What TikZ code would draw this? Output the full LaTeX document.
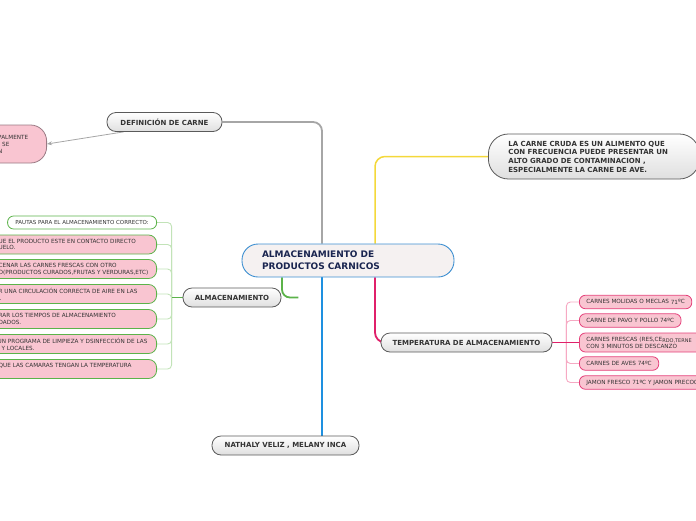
\documentclass[tikz,border=0pt]{standalone}
\usepackage{fontspec}
\setmainfont{DejaVu Sans}
\usetikzlibrary{calc,backgrounds,arrows.meta}
\definecolor{gborder}{HTML}{5A5A5A}
\definecolor{tdark}{HTML}{333333}
\definecolor{tnavy}{HTML}{1A2550}
\definecolor{cenborder}{HTML}{3D8FD1}
\definecolor{cenfill}{HTML}{F5F1F1}
\definecolor{pinkfill}{HTML}{F9C5D1}
\definecolor{pinkborder}{HTML}{E4407A}
\definecolor{greenborder}{HTML}{5CB34A}
\definecolor{lgreen}{HTML}{C2E3B8}
\definecolor{lpink}{HTML}{F6A9C3}
\definecolor{cmagenta}{HTML}{E0206A}
\definecolor{cyellow}{HTML}{F4D83A}
\definecolor{cblue}{HTML}{1E90E0}
\definecolor{cgray}{HTML}{A6A6A6}
\definecolor{mauve}{HTML}{9A7A84}
\tikzset{
  graynode/.style={draw=gborder, line width=0.8pt, rounded corners=9pt,
    top color=white, bottom color=gray!25, text=tdark,
    font=\fontsize{7}{8.7}\selectfont\bfseries, minimum height=19pt, inner sep=2pt},
  central/.style={draw=cenborder, line width=0.9pt, fill=cenfill, rounded corners=16pt,
    text=tnavy, font=\fontsize{9}{12}\selectfont\bfseries, align=left,
    text width=172pt, inner xsep=20pt, minimum height=33pt},
  leafL/.style={draw=greenborder, line width=0.8pt, fill=pinkfill, rounded corners=8pt},
  leafR/.style={draw=pinkborder, line width=0.8pt, fill=pinkfill, rounded corners=6pt,
    text=tdark, font=\fontsize{5.7}{6.8}\selectfont, align=left,
    inner xsep=7pt, inner ysep=2pt, minimum height=13.5pt},
  smalltext/.style={text=tdark, font=\fontsize{5.7}{6.8}\selectfont, align=left, inner sep=0pt},
  pautas/.style={draw=greenborder, line width=0.8pt, fill=white, rounded corners=6pt,
    text=tdark, font=\fontsize{5.5}{6.8}\selectfont, minimum height=13pt, inner xsep=3pt},
  lglink/.style={draw=lgreen, line width=0.9pt, rounded corners=4pt},
  lplink/.style={draw=lpink, line width=0.9pt, rounded corners=4pt},
}
\begin{document}
\begin{tikzpicture}[x=1pt,y=-1pt]
\useasboundingbox (0,0) rectangle (696,520);
\clip (0,0) rectangle (696,520);

% central
\node[central] (cen) at (348,260.5) {ALMACENAMIENTO DE\\PRODUCTOS CARNICOS};

% definition branch
\node[graynode, minimum width=115pt] (def) at (164.5,122) {DEFINICIÓN DE CARNE};
\node[draw=mauve, line width=0.8pt, fill=pinkfill, rounded corners=16pt,
  minimum width=110pt, minimum height=38pt, anchor=east] (dpk) at (47,144) {};
\node[smalltext, anchor=west] (dpkt) at (-2,144.5) {PALMENTE\\\hspace*{4pt}SE\\N};

% right top
\node[graynode, rounded corners=20pt, minimum height=45pt, text width=171pt,
  inner xsep=20pt, align=left, anchor=west] (rt) at (488,156.5)
  {LA CARNE CRUDA ES UN ALIMENTO QUE\\CON FRECUENCIA PUEDE PRESENTAR UN\\ALTO GRADO DE CONTAMINACION ,\\ESPECIALMENTE LA CARNE DE AVE.};

% temperature
\node[graynode, minimum width=171pt] (temp) at (466.5,342.5) {TEMPERATURA DE ALMACENAMIENTO};
\node[leafR, anchor=west] (r1) at (579,302) {CARNES MOLIDAS O MECLAS \raisebox{-1pt}{71}ºC};
\node[leafR, anchor=west, text width=132pt, minimum height=19pt] (r3) at (579,342.5)
  {CARNES FRESCAS (RES,CE\raisebox{-1pt}{\fontsize{5}{6}\selectfont RDO,TERNE}\\CON 3 MINUTOS DE DESCANZO};
\node[leafR, anchor=west] (r2) at (579,320.5) {CARNE DE PAVO Y POLLO 74ºC};
\node[leafR, anchor=west] (r4) at (579,363.5) {CARNES DE AVES 74ºC};
\node[leafR, anchor=west, text width=132pt] (r5) at (579,382.5) {JAMON FRESCO 71ºC Y JAMON PRECOC};

% bottom
\node[graynode, minimum width=147pt] (nat) at (285.5,445.5) {NATHALY VELIZ , MELANY INCA};

% almacenamiento
\node[graynode, minimum width=98pt] (alm) at (232,297.5) {ALMACENAMIENTO};
\node[pautas, anchor=east, minimum width=149pt] (l1) at (157,222.5) {PAUTAS PARA EL ALMACENAMIENTO CORRECTO:};
\foreach \n/\y in {l2/244.5,l3/269,l4/294,l5/319,l6/344,l7/369}{
  \node[leafL, anchor=east, minimum width=200pt, minimum height=19pt] (\n) at (157,\y) {};
}
\node[smalltext, anchor=west] (l2t) at (-1.5,244.5) {UE EL PRODUCTO ESTE EN CONTACTO DIRECTO\\UELO.};
\node[smalltext, anchor=west] (l3t) at (-1.5,269) {CENAR LAS CARNES FRESCAS CON OTRO\\O(PRODUCTOS CURADOS,FRUTAS Y VERDURAS,ETC)};
\node[smalltext, anchor=west] (l4t) at (-1.5,294) {R UNA CIRCULACIÓN CORRECTA DE AIRE EN LAS\\\hspace*{1pt}.};
\node[smalltext, anchor=west] (l5t) at (-1.5,319) {RAR LOS TIEMPOS DE ALMACENAMIENTO\\DADOS.};
\node[smalltext, anchor=west] (l6t) at (-2.5,344) {UN PROGRAMA DE LIMPIEZA Y DSINFECCIÓN DE LAS\\\hspace*{4pt}Y LOCALES.};
\node[smalltext, anchor=west] (l7t) at (-1.5,369) {QUE LAS CAMARAS TENGAN LA TEMPERATURA\\\mbox{}};

\begin{pgfonlayer}{background}
  \draw[cgray, line width=1.8pt, rounded corners=9pt] (def.east) -| ([xshift=-26pt]cen.north);
  \draw[cgray, line width=0.8pt, -{Stealth[length=5pt,width=4pt]}] ([xshift=-41pt]def.south) -- (dpk.east);
  \draw[cyellow, line width=1.5pt, rounded corners=10pt] (rt.west) -| ([xshift=27pt]cen.north);
  \draw[cmagenta, line width=1.8pt, rounded corners=10pt] ([xshift=27pt]cen.south) |- (temp.west);
  \draw[cblue, line width=2.2pt] ([xshift=-26pt]cen.south) -- ([xshift=-26pt]cen.south |- nat.north);
  \draw[greenborder, line width=1.8pt, rounded corners=8pt] ([xshift=-66pt]cen.south) |- ([xshift=17pt]alm.east);
  \foreach \n in {l1,l2,l3,l4,l5,l6,l7}{
    \draw[lglink] (\n.east) -| ([xshift=-11pt]alm.west);
  }
  \draw[greenborder, line width=1.5pt] (alm.west) -- ([xshift=-11pt]alm.west);
  \foreach \n in {r1,r2,r4,r5}{
    \draw[lplink] (\n.west) -| ([xshift=14pt]temp.east);
  }
  \draw[cmagenta, line width=1.2pt] (temp.east) -- (r3.west);
\end{pgfonlayer}
\end{tikzpicture}
\end{document}
